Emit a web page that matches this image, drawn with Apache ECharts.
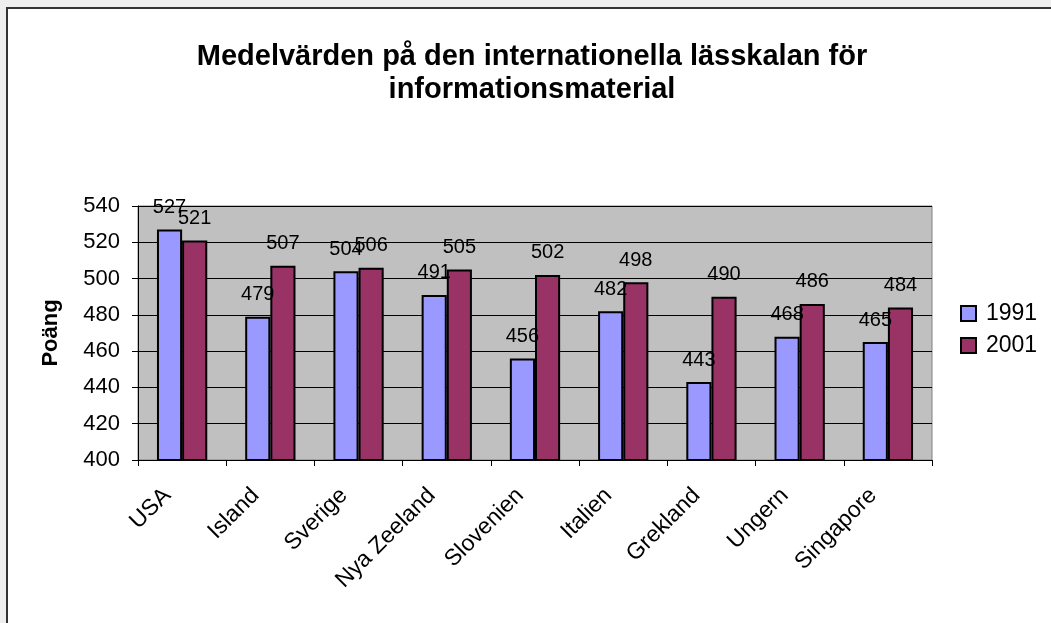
<!DOCTYPE html>
<html>
<head>
<meta charset="utf-8">
<script src="https://cdn.jsdelivr.net/npm/echarts@6/dist/echarts.min.js"></script>
<style>
  html, body { margin: 0; padding: 0; background: #eeeeee; width: 1051px; height: 623px; overflow: hidden; }
  #frame { position: absolute; left: 6px; top: 7px; width: 1045px; height: 616px; border-top: 2px solid #333; border-left: 2px solid #333; background: #fff; }
  #chart { width: 1043px; height: 614px; }
</style>
</head>
<body>
<div id="frame"><div id="chart"></div></div>
<script>
var countries = ["USA", "Island", "Sverige", "Nya Zeeland", "Slovenien", "Italien", "Grekland", "Ungern", "Singapore"];
var values1991 = [527, 479, 504, 491, 456, 482, 443, 468, 465];
var values2001 = [521, 507, 506, 505, 502, 498, 490, 486, 484];
var yTicks = { min: 400, max: 540, step: 20 };

var myChart = null;
window.onload = function () {
  myChart = echarts.init(document.getElementById("chart"));
  drawBars();
};

function drawBars() {
  var font = "Arial, 'Liberation Sans', sans-serif";
  myChart.setOption({
    animation: false,
    textStyle: { fontFamily: font },
    title: {
      text: "Medelvärden på den internationella lässkalan för\ninformationsmaterial",
      left: 524,
      top: 31,
      padding: 0,
      textAlign: "center",
      textStyle: { fontSize: 29, fontWeight: "bold", color: "#000", lineHeight: 33, fontFamily: font },
    },
    legend: {
      orient: "vertical",
      left: 952,
      top: 293,
      padding: 0,
      itemWidth: 15,
      itemHeight: 15,
      itemGap: 9,
      icon: "rect",
      textStyle: { fontSize: 23, color: "#000", fontFamily: font, padding: [0, 0, 0, 5] },
      itemStyle: { borderColor: "#000", borderWidth: 2 },
      data: ["1991", "2001"],
    },
    grid: {
      left: 130,
      top: 197,
      width: 794,
      height: 254,
      show: true,
      backgroundColor: "#c0c0c0",
      borderColor: "#808080",
      borderWidth: 1,
    },
    xAxis: {
      type: "category",
      data: countries,
      axisLine: { lineStyle: { color: "#000", width: 1 } },
      axisTick: { show: true, length: 6, lineStyle: { color: "#000" } },
      axisLabel: {
        rotate: 45,
        interval: 0,
        fontSize: 23,
        color: "#000",
        margin: 17,
        padding: [0, 21, 0, 0],
      },
    },
    yAxis: {
      type: "value",
      min: yTicks.min,
      max: yTicks.max,
      interval: yTicks.step,
      name: "Poäng",
      nameLocation: "middle",
      nameGap: 76,
      nameTextStyle: { fontSize: 22, fontWeight: "bold", color: "#000" },
      axisLine: { show: true, lineStyle: { color: "#000" } },
      axisTick: { show: true, length: 6, lineStyle: { color: "#000" } },
      axisLabel: { fontSize: 22, color: "#000", margin: 18 },
      splitLine: { show: true, lineStyle: { color: "#000", width: 1 } },
    },
    series: [
      {
        name: "1991",
        type: "bar",
        data: values1991,
        barGap: "0%",
        barCategoryGap: "43%",
        itemStyle: { color: "#9999ff", borderColor: "#000", borderWidth: 2 },
        label: { show: true, position: "top", fontSize: 20, color: "#000", distance: 12 },
      },
      {
        name: "2001",
        type: "bar",
        data: values2001,
        itemStyle: { color: "#993366", borderColor: "#000", borderWidth: 2 },
        label: { show: true, position: "top", fontSize: 20, color: "#000", distance: 12 },
      },
    ],
  });
}
</script>
</body>
</html>
